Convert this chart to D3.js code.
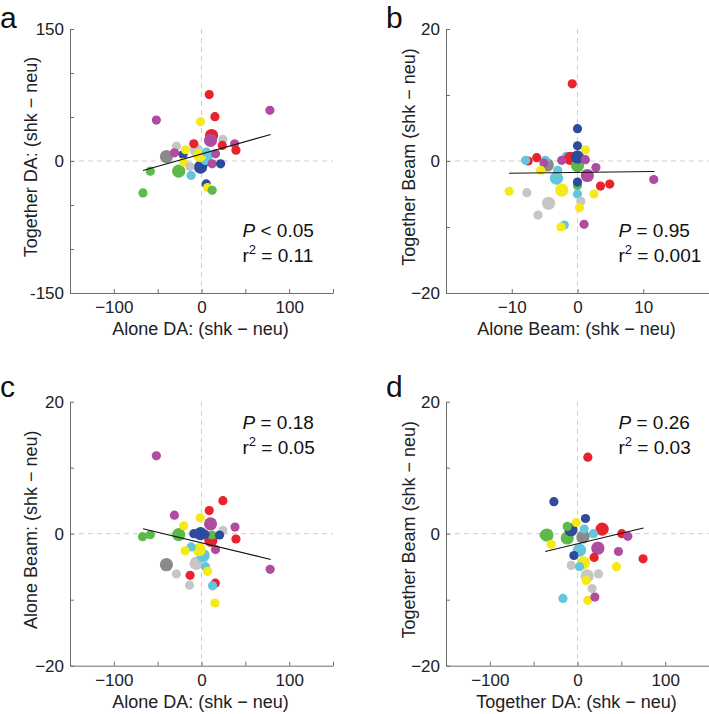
<!DOCTYPE html>
<html>
<head>
<meta charset="utf-8">
<script src="https://cdn.jsdelivr.net/npm/d3@7"></script>
<style>
  html, body { margin: 0; padding: 0; background: #fff; }
  svg { display: block; font-family: "Liberation Sans", Arial, Helvetica, sans-serif; }
</style>
</head>
<body>
<svg id="chart" width="709" height="714"></svg>
<script>
// ---------------- DATA ----------------
// subjects (colour groups): 0 red,1 magenta,2 yellow,3 green,4 dark blue,5 cyan,6 light gray,7 dark gray
const subjectNames = ["s1","s2","s3","s4","s5","s6","s7","s8"];
const subjectColors = ["#e8232b","#b04c9e","#f5e918","#5db94a","#2d4a9c","#62c6dc","#c6c6c6","#8a8a8a"];
// group: 0 = small marker, 1 = large marker
const groupNames = [0, 1];

// [x, y, subject, group]
const pointsA = [
  [11.5,29,0,1],[10.3,23.4,1,1],[-40,5,7,1],[-5.7,12,6,1],[-1.1,-7,4,1],[2.6,0.6,4,1],[5,3,5,1],[-2,6.3,2,1],[-26,-11.6,3,1],
  [8.8,75.5,0,0],[78,57.6,1,0],[-51.5,46.5,1,0],[15.3,50.4,0,0],[-1.1,44.7,2,0],
  [24.4,24.5,6,0],[-8.8,19.6,0,0],[37.8,19.6,1,0],[39.3,12.3,0,0],[23.7,17.7,0,0],
  [-28.6,16.9,6,0],[-30.9,9.3,1,0],[-21,7.4,4,0],[-18.3,12.8,2,0],[5.7,10,5,0],
  [16,8.2,1,0],[12.2,-3.2,1,0],[21.8,-3.2,4,0],[-20.3,-1.4,2,0],[-13.4,-6.3,6,0],
  [-58.4,-11.6,3,0],[-11.8,-16.5,5,0],[5.4,-26,4,0],[6.9,-30.2,2,0],[12.2,-33.3,3,0],[-66.8,-36.3,3,0]
];
const pointsB = [
  [-4.6,-0.6,7,1],[-3.2,-2.6,5,1],[1.5,-2.2,1,1],[-2.4,-4.4,2,1],[-4.4,-6.4,6,1],
  [-1.7,0.7,5,0],[-1.1,0.4,0,1],[0,-0.7,3,1],[0,0.6,4,1],
  [-0.8,11.7,0,0],[0,4.9,4,0],[0,2.3,4,0],[1.2,1.7,2,0],[1.2,0.2,1,0],[-2.4,0.1,1,0],
  [-7.5,0,0,0],[-7.9,0.1,5,0],[-6.2,0.5,0,0],[-4.9,0.1,5,0],[-5.1,-0.3,1,0],
  [-5.6,-1.4,2,0],[-3,-1.4,5,0],[2.8,-1,1,0],[0,-3.7,3,0],[0,-3.2,4,0],
  [3.5,-3.8,0,0],[4.9,-3.5,0,0],[-10.4,-4.6,2,0],[-7.7,-4.8,6,0],[0,-5,5,0],
  [2.5,-5,2,0],[0.5,-6.1,6,0],[0.3,-7.1,2,0],[11.6,-2.8,1,0],[-6,-8.2,6,0],
  [-2,-9.7,5,0],[-2.5,-10,2,0],[1,-9.6,1,0]
];
const pointsC = [
  [-40,-4.7,7,1],[-6.1,-4.5,6,1],[1.9,-3.3,5,1],[-2.6,-2.4,2,1],[-26,-0.15,3,1],[-1.1,0,4,1],[10.3,1.5,1,1],[10.7,-1,0,1],
  [-51.5,11.8,1,0],[24.4,5.0,0,0],[8.8,3.5,0,0],[-30.9,2.8,1,0],[-1.5,2.4,2,0],
  [-20.3,1.2,2,0],[38.2,1.0,1,0],[24.4,0.5,6,0],[-58.4,-0.15,3,0],[-67.2,-0.45,3,0],
  [12,-0.2,3,0],[-8.8,0,4,0],[4,-0.1,4,0],[20.6,-0.2,4,0],[39.3,-0.8,0,0],
  [-11.8,-2,5,0],[-18.7,-2.6,2,0],[16,-2.4,1,0],[4.6,-5,5,0],[6.9,-5.7,2,0],
  [-28.6,-6.1,6,0],[-13,-6.3,0,0],[15.7,-7.5,0,0],[12.6,-7.9,5,0],[-13.7,-7.8,6,0],
  [15.3,-10.5,2,0],[78.3,-5.4,1,0]
];
const pointsD = [
  [-34.9,-0.2,3,1],[-11.7,-0.65,3,1],[-7.5,0.6,4,1],[28.1,0.7,0,1],[2.3,-2.5,5,1],[23.2,-2.2,1,1],[11,-6.4,6,1],[6.8,-4.4,2,1],
  [8.6,-0.3,1,0],[6.1,-0.5,7,1],
  [11.8,11.6,0,0],[-26.9,4.85,4,0],[9.1,2.3,4,0],[-1.5,1.7,2,0],[-11.7,1.1,3,0],
  [-38,-0.2,3,0],[7.6,0.7,5,0],[18.2,0,5,0],[50.5,0,0,0],[57.4,-0.4,1,0],
  [-30,-1.6,2,0],[46.7,-2.7,1,0],[-4.1,-3.3,4,0],[19,-3.6,0,0],[74.8,-3.8,0,0],
  [-7.2,-4.8,6,0],[2.3,-5,5,0],[44.4,-5.0,2,0],[23.9,-6.1,6,0],[9.9,-7.1,2,0],
  [16.7,-8.3,6,0],[-16.6,-9.8,5,0],[11.8,-10.1,2,0],[19.8,-9.6,1,0]
];

// regression line end points [x1, y1, x2, y2]
const fitA = [-66.8, -10.8, 79, 30.2];
const fitB = [-10.4, -1.85, 11.7, -1.6];
const fitC = [-66.8, 0.76, 79, -3.9];
const fitD = [-36.8, -2.7, 75.2, 0.86];

// statistics text
const statsA = ["<", "0.05", "0.11"];
const statsB = ["=", "0.95", "0.001"];
const statsC = ["=", "0.18", "0.05"];
const statsD = ["=", "0.26", "0.03"];

// domains & ticks
const daDomain = [-150, 150];
const daTicks = [-150, -100, -50, 0, 50, 100, 150];
const daXLabels = {"-100": "\u2212100", "0": "0", "100": "100"};
const daYLabels = {"-150": "-150", "0": "0", "150": "150"};
const beamDomain = [-20, 20];
const beamTicks = [-20, -10, 0, 10, 20];
const beamXLabels = {"-10": "\u221210", "0": "0", "10": "10"};
const beamYLabels = {"-20": "\u221220", "0": "0", "20": "20"};

// ---------------- DRAW ----------------
const svg = d3.select("#chart");
const color = d3.scaleOrdinal().domain(d3.range(subjectNames.length)).range(subjectColors);
const radius = d3.scaleOrdinal().domain(groupNames).range([4.6, 6.6]);

const panels = [
  {letter:"a", left:70,  top:29,    pts:pointsA, fit:fitA, stats:statsA,
   xd:daDomain, xt:daTicks, xl:daXLabels, yd:daDomain, yt:daTicks, yl:daYLabels,
   xTitle:"Alone DA: (shk \u2212 neu)", yTitle:"Together DA: (shk \u2212 neu)", statsTop:false},
  {letter:"b", left:446, top:29,    pts:pointsB, fit:fitB, stats:statsB,
   xd:beamDomain, xt:beamTicks, xl:beamXLabels, yd:beamDomain, yt:beamTicks, yl:beamYLabels,
   xTitle:"Alone Beam: (shk \u2212 neu)", yTitle:"Together Beam (shk \u2212 neu)", statsTop:false},
  {letter:"c", left:70,  top:401.7, pts:pointsC, fit:fitC, stats:statsC,
   xd:daDomain, xt:daTicks, xl:daXLabels, yd:beamDomain, yt:beamTicks, yl:beamYLabels,
   xTitle:"Alone DA: (shk \u2212 neu)", yTitle:"Alone Beam: (shk \u2212 neu)", statsTop:true},
  {letter:"d", left:446, top:401.7, pts:pointsD, fit:fitD, stats:statsD,
   xd:daDomain, xt:daTicks, xl:daXLabels, yd:beamDomain, yt:beamTicks, yl:beamYLabels,
   xTitle:"Together DA: (shk \u2212 neu)", yTitle:"Together Beam (shk \u2212 neu)", statsTop:true}
];

const W = 263, H = 264;

panels.forEach(p => {
  const g = svg.append("g").attr("transform", `translate(${p.left},${p.top})`);
  const x = d3.scaleLinear().domain(p.xd).range([0, W]);
  const y = d3.scaleLinear().domain(p.yd).range([H, 0]);

  // zero dashed lines
  g.append("line").attr("x1", x(0)).attr("x2", x(0)).attr("y1", 0).attr("y2", H)
    .attr("stroke", "#cfcfcf").attr("stroke-width", 1).attr("stroke-dasharray", "5,4");
  g.append("line").attr("x1", 0).attr("x2", W).attr("y1", y(0)).attr("y2", y(0))
    .attr("stroke", "#cfcfcf").attr("stroke-width", 1).attr("stroke-dasharray", "5,4");

  // axes
  const xAxis = d3.axisBottom(x).tickValues(p.xt)
    .tickFormat(v => p.xl[String(v)] || "").tickSizeInner(-4).tickSizeOuter(0).tickPadding(8);
  const yAxis = d3.axisLeft(y).tickValues(p.yt)
    .tickFormat(v => p.yl[String(v)] || "").tickSizeInner(-4).tickSizeOuter(0).tickPadding(6);

  const gx = g.append("g").attr("transform", `translate(0,${H})`).call(xAxis);
  const gy = g.append("g").call(yAxis);
  [gx, gy].forEach(a => {
    a.select(".domain").attr("stroke", "#6e6e6e");
    a.selectAll(".tick line").attr("stroke", "#6e6e6e");
    a.selectAll(".tick text").attr("fill", "#222").style("font-size", "17px")
      .style("font-family", "'Liberation Sans', Arial, sans-serif");
  });
  gx.selectAll(".tick text").attr("dy", "0.72em");

  // points
  g.append("g").selectAll("circle").data(p.pts).join("circle")
    .attr("cx", d => x(d[0])).attr("cy", d => y(d[1]))
    .attr("r", d => radius(d[3])).attr("fill", d => color(d[2]));

  // regression line
  g.append("line").attr("x1", x(p.fit[0])).attr("y1", y(p.fit[1]))
    .attr("x2", x(p.fit[2])).attr("y2", y(p.fit[3]))
    .attr("stroke", "#111").attr("stroke-width", 1.1);

  // stats text
  const sy = p.statsTop ? 27.5 : 208;
  const t1 = g.append("text").attr("x", 172.5).attr("y", sy).attr("fill", "#111").style("font-size", "19px");
  t1.append("tspan").attr("font-style", "italic").text("P");
  t1.append("tspan").text(` ${p.stats[0]} ${p.stats[1]}`);
  const t2 = g.append("text").attr("x", 172.5).attr("y", sy + 25).attr("fill", "#111").style("font-size", "19px");
  t2.append("tspan").text("r");
  t2.append("tspan").attr("dy", -8).style("font-size", "13px").text("2");
  t2.append("tspan").attr("dy", 8).text(` = ${p.stats[2]}`);

  // axis titles
  g.append("text").attr("x", W / 2 - 1).attr("y", H + 42).attr("text-anchor", "middle")
    .attr("fill", "#222").style("font-size", "18px").text(p.xTitle);
  const yx = p.left < 200 ? 37 - p.left : 415 - p.left;
  g.append("text").attr("transform", `translate(${yx},${H / 2 - 4}) rotate(-90)`)
    .attr("text-anchor", "middle").attr("fill", "#222").style("font-size", "18px").text(p.yTitle);

  // panel letter
  const lx = p.left < 200 ? 0 : 386;
  const ly = p.top < 100 ? 28 : p.top - 4.5;
  svg.append("text").attr("x", lx).attr("y", ly)
    .attr("fill", "#111").style("font-size", "30px").text(p.letter);
});
</script>
</body>
</html>
